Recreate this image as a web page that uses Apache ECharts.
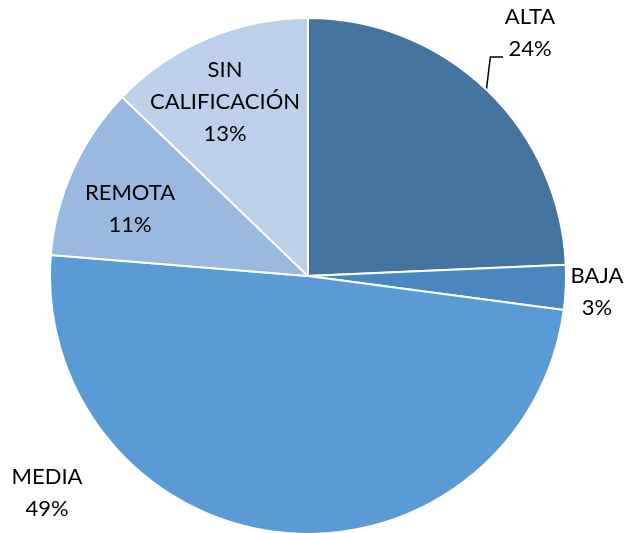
<!DOCTYPE html>
<html>
<head>
<meta charset="utf-8">
<script src="https://cdn.jsdelivr.net/npm/echarts@6/dist/echarts.min.js"></script>
<style>
  html, body { margin: 0; padding: 0; background: #fff; }
  #chart { width: 624px; height: 533px; }
</style>
</head>
<body>
<div id="chart"></div>
<script>
// datos (porcentaje por categoría)
const categories = ['ALTA', 'BAJA', 'MEDIA', 'REMOTA', 'SIN CALIFICACIÓN']
const shares = [24.3, 2.8, 49.2, 10.9, 12.8]
const sliceColors = ['#44739f', '#4a87c0', '#5b9bd5', '#9ab9e0', '#bcd0ea']

// posición de cada etiqueta (centro del texto), como en el original
const labelSpots = [
  [530, 33],
  [597, 292],
  [47, 493],
  [130, 209],
  [225, 102],
]

const chart = echarts.init(document.getElementById('chart'))

const option = {
  animation: false,
  series: [
    {
      type: 'pie',
      center: [308, 276],
      radius: [0, 258],
      startAngle: 90,
      clockwise: true,
      avoidLabelOverlap: false,
      itemStyle: { borderColor: '#fff', borderWidth: 2 },
      label: {
        show: true,
        position: 'outside',
        color: '#000',
        fontFamily: 'Lato',
        fontSize: 22,
        lineHeight: 32,
        align: 'center',
        formatter: (p) => p.name.replace(' ', '\n') + '\n' + Math.round(p.percent) + '%',
      },
      labelLine: { show: false },
      labelLayout: (p) => {
        const spot = labelSpots[p.dataIndex]
        const out = { x: spot[0], y: spot[1], align: 'center', verticalAlign: 'middle' }
        // línea guía en codo: sube casi vertical y gira hacia el "24%"
        const pts = p.labelLinePoints
        if (p.dataIndex === 0 && pts && pts.length) {
          const start = pts[0]
          const lineY = spot[1] + 24
          out.labelLinePoints = [
            [start[0], start[1]],
            [start[0] + 4, lineY],
            [spot[0] - 27, lineY],
          ]
        }
        return out
      },
      data: categories.map((name, i) => ({
        name,
        value: shares[i],
        itemStyle: { color: sliceColors[i] },
        labelLine: i === 0
          ? { show: true, length: 20, length2: 12, lineStyle: { color: '#000', width: 1.5 } }
          : { show: false },
      })),
    },
  ],
}

chart.setOption(option)
</script>
</body>
</html>
